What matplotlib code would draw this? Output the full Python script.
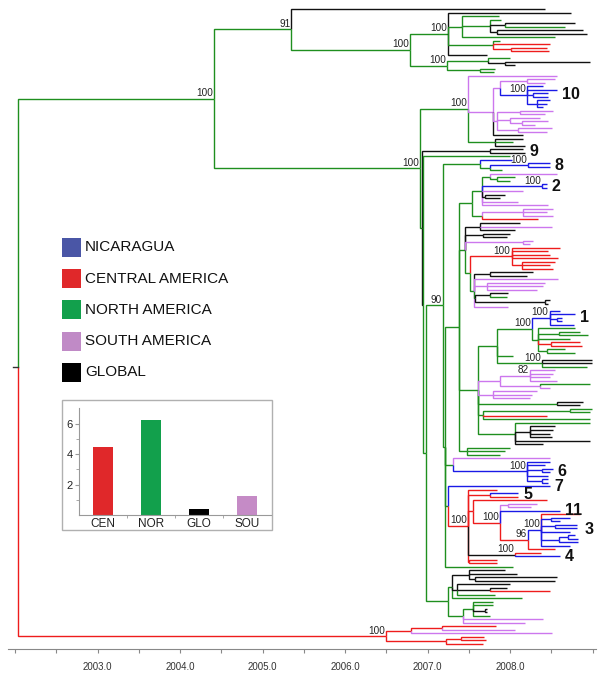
import re
import numpy as np
import matplotlib
matplotlib.use('Agg')
import matplotlib.pyplot as plt
from matplotlib.patches import Rectangle

# tree written as nested groups: colour letter + node date, #support, @clade tag
# K global, G north america, R central america, P south america, B nicaragua
clade_e = "(K2008.74,(G2007.87,(G2007.89,(K2008.79,G2008.67)K2007.94,(K2008.88,K2008.93)K2007.84)G2007.76,G2008.55)G2007.42,(G2007.88,R2008.48,(R2008.45,R2008.47)R2008.01)G2007.79,K2007.72)G2007.25#100"
clade_f = "((G2008.00,(K2008.97,K2008.06)K2007.94)G2007.73,(G2007.82,G2007.80)G2007.64)G2007.24#100"
clade_top = f"(K2008.42,({clade_e},{clade_f})G2006.79#100)G2005.35#91"

clade_10 = "(B2008.40,B2008.57,(B2008.46,B2008.46)B2008.28,(B2008.48,B2008.45,B2008.40)B2008.33)B2008.21#100@10"
purple_10 = f"(P2008.57,(((P2008.55,P2008.42)P2008.21,{clade_10})P2007.88,((P2008.52,P2008.42)P2008.12,(P2008.36,(P2008.46,P2008.30)P2008.15)P2008.00,(P2008.51,P2008.45)P2008.10)P2007.84,K2008.16)P2007.79,(K2008.16,G2008.04,K2008.18)G2007.82)G2007.49#100"

clade_9 = "(K2008.16,K2008.18)K2007.76@9"
clade_8 = "(B2008.02,((B2008.48,B2008.48)B2008.22#100@8,G2007.90)G2007.76)G2007.64"
clade_2 = "(((P2008.57,(G2008.06,G2008.00)G2007.84)G2007.76,(B2008.45,B2008.45)B2008.39#100@2,P2008.16,(K2007.94,K2007.88)K2007.70,P2008.10,P2008.46)G2007.66,((P2008.52,P2008.45,P2008.52)P2008.16,R2008.34)G2007.66)G2007.54"

red_100a = "(R2008.61,R2008.46,R2008.48,R2008.58,(R2008.55,R2008.48,R2008.52)R2008.15)R2008.02#100"
mixed_t = "((K2008.28,K2008.21)K2007.76,P2008.58,(P2008.42,P2008.40,P2008.33)P2007.72,((K2007.98,G2007.96)K2007.76,(K2008.48,K2008.46)K2008.42)G2007.58,P2007.98)G2007.56"
mixed_v = f"((K2008.12,P2008.51,K2008.06)K2007.64,(K2008.00,K2007.96)K2007.67,(P2008.28,P2008.24)P2008.16,({red_100a},{mixed_t})G2007.52)G2007.45"

clade_1 = "(((B2008.61,B2008.79,(B2008.63,B2008.63)B2008.57,B2008.77)B2008.48#100@1,(G2008.79,(G2008.85,G2008.95)G2008.60,G2008.73,(R2008.85,R2008.87)R2008.50,(G2008.67,G2008.79)G2008.45)G2008.34)G2008.27#100,G2008.04,(K2008.99,K2008.99,G2008.93)G2008.39#100)G2007.84"
clade_82 = "((P2008.55,P2008.52,P2008.48,P2008.57)P2008.24#82,(G2008.97,P2008.48)P2008.36)P2007.88"
group_m = f"({clade_1},{clade_82},(P2008.33,P2008.27,P2008.24)P2007.79,(K2008.88,K2008.85)G2008.57,((G2008.99,G2008.97)G2008.73,R2008.45,G2008.97)G2007.67,(G2008.97,(K2008.55,K2008.52,K2008.48,K2008.51)K2008.24,K2008.97,K2008.40)G2008.06)G2007.61"
group_w = f"({clade_2},{mixed_v},{group_m},(G2008.00,G2007.94,G2007.88)G2007.48)G2007.38"

clade_6 = "(P2008.48,(B2008.48,B2008.42,(B2008.52,B2008.48)B2008.39,B2008.46,(B2008.46,B2008.46)B2008.39)B2008.21#100@6)G2007.31"
clade_3 = "(R2008.85,(B2008.73,B2008.61)B2008.50,(B2008.81,B2008.81)B2008.55,B2008.73,((B2008.79,B2008.83)B2008.70,B2008.83)B2008.60,B2008.73)B2008.38#100@3"
red_c = f"(R2007.84,(B2008.10,R2008.10)R2007.76@5,(R2008.45,((P2008.33,P2008.25)P2007.98,B2008.61@11,({clade_3},R2008.55)R2008.22#96)R2007.88#100)R2007.55,(R2008.38,B2008.61@4)K2008.06#100,(R2007.84,R2007.84)R2007.50)R2007.49#100"
clade_7 = f"(B2008.48@7,{red_c})G2007.25"
group_q = f"({group_w},{clade_6},{clade_7},G2008.04)G2007.21"
node_90 = f"({clade_8},{group_q})G2007.19#90"

bottom = "(((K2007.94,K2008.08,(K2008.57,K2008.55)K2007.58)K2007.50,(K2008.00,(K2007.96,R2008.48)K2007.76,G2007.82)K2007.36,G2008.15)G2007.30,((G2007.79,G2007.79,(K2007.72,K2007.72)K2007.70,G2007.76)G2007.55,P2008.40,P2008.18)G2007.43)G2007.25"
red_bottom = "(((R2007.83,P2008.06)R2007.17,P2008.51)R2006.80,((R2007.68,R2007.71)R2007.40,R2007.67)R2007.22)R2006.50#100"

tree = (f"(({clade_top},({purple_10},({clade_9},(G2008.00,({node_90},{bottom})G2006.98)K2006.95)G2006.93)"
        f"G2006.91#100)G2004.41#100,{red_bottom})R2002.04")

colors = {'K': '#111111', 'G': '#1f8f1f', 'R': '#ee1c1c', 'P': '#cc77ee', 'B': '#1a1ae6'}

legend_labels = ['NICARAGUA', 'CENTRAL AMERICA', 'NORTH AMERICA', 'SOUTH AMERICA', 'GLOBAL']
legend_colors = ['#4a56a6', '#e0282a', '#12a04c', '#c08ac6', '#000000']

bar_labels = ['CEN', 'NOR', 'GLO', 'SOU']
bar_values = [4.47, 6.22, 0.37, 1.24]
bar_colors = ['#e0282a', '#12a04c', '#000000', '#c58bc6']

year_ticks = np.arange(2002.0, 2009.01, 0.5)

FONT = 'Liberation Sans'


# ---- parse ----
atom_re = re.compile(r'([KGRPB])([0-9.]+)(?:#(\d+))?(?:@(\d+))?')
toks = re.findall(r'\(|\)|,|[KGRPB][0-9.]+(?:#\d+)?(?:@\d+)?', tree)
pos = 0


def parse():
    global pos
    kids = []
    if toks[pos] == '(':
        pos += 1
        kids.append(parse())
        while toks[pos] == ',':
            pos += 1
            kids.append(parse())
        pos += 1
    m = atom_re.match(toks[pos])
    pos += 1
    return {'col': m[1], 't': float(m[2]), 'sup': m[3], 'tag': m[4], 'kids': kids}


root = parse()
leaves = []


def place(n):
    if not n['kids']:
        n['y'] = len(leaves)
        n['tmax'] = n['t']
        leaves.append(n)
    else:
        for k in n['kids']:
            place(k)
        n['y'] = (n['kids'][0]['y'] + n['kids'][-1]['y']) / 2
        n['tmax'] = max(k['tmax'] for k in n['kids'])


place(root)
n_leaves = len(leaves)

W, H = 603, 677
fig = plt.figure(figsize=(W / 100, H / 100), dpi=100)
ax = fig.add_axes([0, 28 / H, 1, 649 / H])

s = 635 / (n_leaves - 1)
ax.set_ylim(640 / s, -9 / s)
ax.set_xlim(2007 - 427.5 / 82.5, 2007 + 175.5 / 82.5)


def draw(n):
    order = sorted(n['kids'], key=lambda k: -abs(k['y'] - n['y']))
    for k in order:
        ax.plot([n['t'], n['t'], k['t']], [n['y'], k['y'], k['y']],
                color=colors[k['col']], lw=1.0,
                solid_joinstyle='miter', solid_capstyle='butt')
    for k in n['kids']:
        draw(k)
    if n['sup']:
        ax.annotate(n['sup'], (n['t'], n['y']), xytext=(-0.8, 0.4),
                    textcoords='offset points', ha='right', va='bottom',
                    fontsize=7.2, family=FONT, color='#222222')
    if n['tag']:
        ax.annotate(n['tag'], (n['tmax'], n['y']), xytext=(3.5, 0),
                    textcoords='offset points', ha='left', va='center',
                    fontsize=11.5, fontweight='bold', family=FONT, color='#111111')


draw(root)
ax.plot([2001.97, root['t']], [root['y'], root['y']], color='#333333', lw=1.0)

for sp in ['top', 'right', 'left']:
    ax.spines[sp].set_visible(False)
ax.spines['bottom'].set_color('#888888')
ax.spines['bottom'].set_bounds(2001.92, 2009.04)
ax.set_yticks([])
ax.set_xticks(year_ticks)
ax.set_xticklabels(['%.1f' % t if (t == int(t) and 2003 <= t <= 2008) else '' for t in year_ticks],
                   family=FONT)
ax.tick_params(axis='x', direction='out', length=3, color='#888888',
               labelsize=7, labelcolor='#333333', pad=6)

# ---- legend ----
for i, (lab, c) in enumerate(zip(legend_labels, legend_colors)):
    yc = 247.5 + 31.2 * i
    fig.add_artist(Rectangle((62 / W, 1 - (yc + 9.5) / H), 19 / W, 19 / H,
                             transform=fig.transFigure, color=c, lw=0))
    fig.text(85 / W, 1 - yc / H, lab, ha='left', va='center',
             fontsize=11, family=FONT, color='#111111')

# ---- inset bar chart ----
box = Rectangle((62 / W, 1 - 530 / H), 210 / W, 130 / H,
                transform=fig.transFigure, facecolor='white',
                edgecolor='#b0b0b0', lw=1, zorder=2)
fig.add_artist(box)
bx = fig.add_axes([79.3 / W, 1 - 515 / H, 191.4 / W, 106.7 / H])
bx.set_zorder(5)
bx.bar(range(len(bar_values)), bar_values, width=0.42, color=bar_colors)
bx.set_xlim(-0.5, 3.5)
bx.set_ylim(0, 7)
bx.set_facecolor('none')
for sp in ['top', 'right']:
    bx.spines[sp].set_visible(False)
for sp in ['left', 'bottom']:
    bx.spines[sp].set_color('#999999')
bx.set_xticks(range(len(bar_labels)))
bx.set_xticklabels(bar_labels, family=FONT)
bx.set_xticks([0.5, 1.5, 2.5], minor=True)
bx.set_yticks([2, 4, 6])
bx.set_yticklabels(['2', '4', '6'], family=FONT)
bx.set_yticks([1, 3, 5], minor=True)
bx.tick_params(axis='x', which='major', length=0, labelsize=8.5, pad=2, labelcolor='#222222')
bx.tick_params(axis='x', which='minor', length=2, color='#999999')
bx.tick_params(axis='y', which='major', length=3, labelsize=8, pad=1.5, color='#999999', labelcolor='#222222')
bx.tick_params(axis='y', which='minor', length=2, color='#999999')

fig.savefig('out.png', dpi=100)
